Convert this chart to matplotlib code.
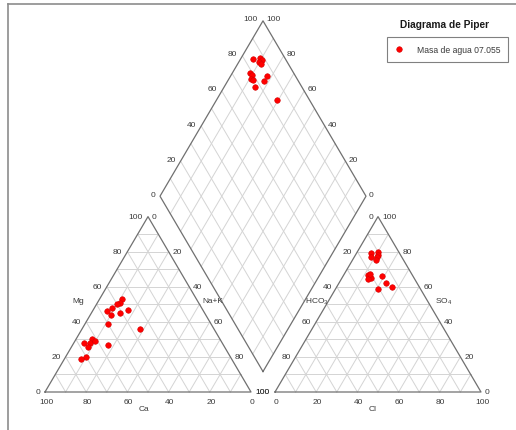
import matplotlib
matplotlib.use('Agg')
import matplotlib.pyplot as plt
from matplotlib.lines import Line2D
import numpy as np

plt.rcParams['font.family'] = ['Liberation Sans', 'DejaVu Sans']
plt.rcParams['mathtext.fontset'] = 'custom'
plt.rcParams['mathtext.rm'] = 'Liberation Sans'

# cation triangle readings (% meq)
cat_mg = [53, 51, 50, 48, 46, 44, 45, 47, 39, 36, 30, 28, 29, 28, 25.5, 27, 20, 19]
cat_nak = [11, 11, 10, 8.5, 7, 10, 14, 17, 11, 28, 8, 8, 10, 5, 8, 17, 10, 8]

# anion triangle readings (% meq)
an_so4 = [79, 77, 80, 78, 77, 75.5, 66.7, 65, 64.7, 67.3, 66, 62, 60, 59]
an_cl = [7, 8, 10, 11, 11, 11.5, 12, 13.9, 12.8, 12.5, 19, 23, 27, 20.5]

# diamond readings: SO4+Cl and Ca+Mg (%)
dia_s = [84.5, 88, 88.3, 86.5, 86.7, 78.8, 79, 77.5, 78, 77.3, 83.3, 86.3, 84.1]
dia_camg = [93.9, 90.9, 89.6, 90.1, 88.9, 91.4, 90, 89.5, 88, 85, 82.3, 82, 70.8]

ticks = [0, 20, 40, 60, 80, 100]
legend_label = 'Masa de agua 07.055'

SQ = np.sqrt(3) / 2
GAP = 0.1165
OX = 1 + GAP  # left corner of the anion triangle

LINE_C = '#707070'
GRID_C = '#d4d4d4'
TXT_C = '#3a3a3a'
FS = 6


def cation_xy(mg, nak):
    mg = np.asarray(mg) / 100.0
    nak = np.asarray(nak) / 100.0
    return nak + mg / 2, mg * SQ


def anion_xy(so4, cl):
    so4 = np.asarray(so4) / 100.0
    cl = np.asarray(cl) / 100.0
    return OX + cl + so4 / 2, so4 * SQ


def diamond_xy(s, camg):
    s = np.asarray(s) / 100.0
    nak = 1 - np.asarray(camg) / 100.0
    return (nak + OX + s) / 2, SQ * (OX + s - nak)


fig = plt.figure(figsize=(5.16, 4.31), dpi=100)
ax = fig.add_axes([0, 0, 1, 1])
ax.set_xlim(-45 / 206, (516 - 45) / 206)
ax.set_ylim((393 - 431) / 202.5, 393 / 202.5)
ax.axis('off')

# grid lines every 10 %
for t in np.arange(0.1, 0.95, 0.1):
    for ox in (0, OX):
        ax.plot([ox + t / 2, ox + 1 - t / 2], [t * SQ, t * SQ], color=GRID_C, lw=0.7, zorder=1)
        ax.plot([ox + t, ox + t + (1 - t) / 2], [0, (1 - t) * SQ], color=GRID_C, lw=0.7, zorder=1)
        ax.plot([ox + 1 - t, ox + (1 - t) / 2], [0, (1 - t) * SQ], color=GRID_C, lw=0.7, zorder=1)
    v = t * 100
    xs, ys = diamond_xy([v, v], [100, 0])
    ax.plot(xs, ys, color=GRID_C, lw=0.7, zorder=1)
    xs, ys = diamond_xy([0, 100], [v, v])
    ax.plot(xs, ys, color=GRID_C, lw=0.7, zorder=1)

# outlines
for ox in (0, OX):
    ax.plot([ox, ox + 1, ox + 0.5, ox], [0, 0, SQ, 0], color=LINE_C, lw=0.9, zorder=2)
xs, ys = diamond_xy([0, 0, 100, 100, 0], [0, 100, 100, 0, 0])
ax.plot(xs, ys, color=LINE_C, lw=0.9, zorder=2)


def tick_text(x, y, s, dx, dy, ha):
    ax.annotate(s, (x, y), xytext=(dx, dy), textcoords='offset pixels',
                ha=ha, va='center', fontsize=FS, color=TXT_C)


for v in ticks:
    lab = str(v)
    # cation triangle
    x, y = cation_xy(v, 0)
    tick_text(x, y, lab, -5, 0, 'right')
    x, y = cation_xy(100 - v, v)
    tick_text(x, y, lab, 4, 0, 'left')
    x, y = cation_xy(0, 100 - v)
    tick_text(x, y, lab, 1, -10, 'center')
    # anion triangle
    x, y = anion_xy(100 - v, 0)
    tick_text(x, y, lab, -5, 0, 'right')
    x, y = anion_xy(v, 100 - v)
    tick_text(x, y, lab, 4, 0, 'left')
    x, y = anion_xy(0, v)
    tick_text(x, y, lab, 1, -10, 'center')
    # diamond upper sides
    x, y = diamond_xy(v, 100)
    tick_text(x, y, lab, -5, 2, 'right')
    x, y = diamond_xy(100, v)
    tick_text(x, y, lab, 3, 2, 'left')

# axis names
ax.text(0.159, 0.451, 'Mg', ha='center', va='center', fontsize=FS, color=TXT_C)
ax.text(0.813, 0.451, 'Na+K', ha='center', va='center', fontsize=FS, color=TXT_C)
ax.text(0.478, -0.0805, 'Ca', ha='center', va='center', fontsize=FS, color=TXT_C)
ax.text(OX + 0.205, 0.451, r'$\mathregular{HCO_3}$', ha='center', va='center', fontsize=FS, color=TXT_C)
ax.text(OX + 0.817, 0.451, r'$\mathregular{SO_4}$', ha='center', va='center', fontsize=FS, color=TXT_C)
ax.text(OX + 0.473, -0.0805, 'Cl', ha='center', va='center', fontsize=FS, color=TXT_C)

# samples
mk = dict(ls='none', marker='o', ms=4, color='#ff0000', mec='#d40000', mew=0.4, zorder=5)
ax.plot(*cation_xy(cat_mg, cat_nak), **mk)
ax.plot(*anion_xy(an_so4, an_cl), **mk)
ax.plot(*diamond_xy(dia_s, dia_camg), **mk)

# frame
fig.add_artist(Line2D([8 / 516, 8 / 516], [0, 1 - 5 / 431], color='#8c8c8c', lw=1.2))
fig.add_artist(Line2D([8 / 516, 1], [1 - 5 / 431, 1 - 5 / 431], color='#8c8c8c', lw=1.2))

fig.text(445 / 516, 1 - 25 / 431, 'Diagrama de Piper', ha='center', va='center',
         fontsize=7.3, fontweight='bold', color='#1a1a1a')
handle = Line2D([], [], **mk)
leg = ax.legend([handle], [legend_label], loc='upper left',
                bbox_to_anchor=(387 / 516, 1 - 38 / 431), bbox_transform=fig.transFigure,
                borderaxespad=0, fontsize=6.2, fancybox=False, framealpha=1,
                edgecolor='#808080', borderpad=0.9, handlelength=1.0, handletextpad=1.6)
leg.get_frame().set_linewidth(0.8)
for t in leg.get_texts():
    t.set_color(TXT_C)

fig.savefig('out.png', dpi=100)
